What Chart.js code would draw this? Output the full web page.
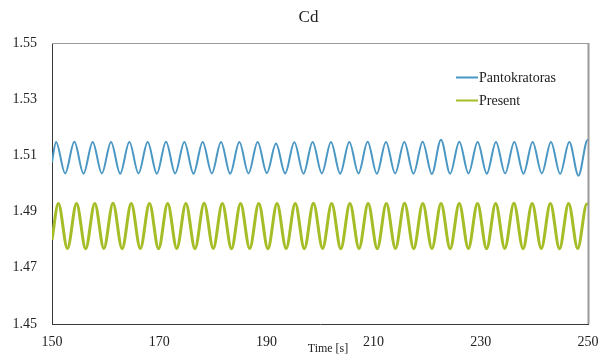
<!DOCTYPE html>
<html>
<head>
<meta charset="utf-8">
<script src="https://cdn.jsdelivr.net/npm/chart.js@4"></script>
<style>
html,body{margin:0;padding:0;background:#fff;}
#wrap{width:600px;height:356px;position:relative;}
</style>
</head>
<body>
<div id="wrap"><canvas id="c" width="600" height="356"></canvas></div>
<script>
const chartTitle = "Cd";
const xAxisTitle = "Time [s]";
const xTicks = [150, 170, 190, 210, 230, 250];
const yTicks = [1.45, 1.47, 1.49, 1.51, 1.53, 1.55];
const seriesNames = ["Pantokratoras", "Present"];

const pantoT = [150, 150.75, 152.46, 154.17, 155.88, 157.59, 159.30, 161.01, 162.72, 164.43, 166.14, 167.85, 169.56, 171.27, 172.98, 174.69, 176.40, 178.11, 179.82, 181.53, 183.24, 184.95, 186.66, 188.37, 190.08, 191.79, 193.50, 195.21, 196.92, 198.63, 200.34, 202.05, 203.76, 205.47, 207.18, 208.89, 210.60, 212.31, 214.02, 215.73, 217.44, 219.15, 220.86, 222.57, 224.28, 225.99, 227.70, 229.41, 231.12, 232.83, 234.54, 236.25, 237.96, 239.67, 241.38, 243.09, 244.80, 246.51, 248.22, 249.93, 250];
const pantoY = [1.5076, 1.5148, 1.5036, 1.5149, 1.5035, 1.5148, 1.5036, 1.5148, 1.5035, 1.5148, 1.5036, 1.5148, 1.5035, 1.5149, 1.5036, 1.5148, 1.5035, 1.5148, 1.5036, 1.5148, 1.5035, 1.5148, 1.5036, 1.5148, 1.5037, 1.5142, 1.5036, 1.5147, 1.5035, 1.5148, 1.5036, 1.5148, 1.5035, 1.5148, 1.5036, 1.5149, 1.5035, 1.5148, 1.5036, 1.5148, 1.5035, 1.5149, 1.5034, 1.5156, 1.5035, 1.5149, 1.5036, 1.5148, 1.5035, 1.5148, 1.5036, 1.5148, 1.5035, 1.5148, 1.5036, 1.5148, 1.5034, 1.5148, 1.5028, 1.5155, 1.5155];

const presentT = [150, 151.18, 152.88, 154.58, 156.28, 157.98, 159.68, 161.38, 163.08, 164.78, 166.48, 168.18, 169.88, 171.58, 173.28, 174.98, 176.68, 178.38, 180.08, 181.78, 183.48, 185.18, 186.88, 188.58, 190.28, 191.98, 193.68, 195.38, 197.08, 198.78, 200.48, 202.18, 203.88, 205.58, 207.28, 208.98, 210.68, 212.38, 214.08, 215.78, 217.48, 219.18, 220.88, 222.58, 224.28, 225.98, 227.68, 229.38, 231.08, 232.78, 234.48, 236.18, 237.88, 239.58, 241.28, 242.98, 244.68, 246.38, 248.08, 249.78, 250];
const presentY = [1.4800, 1.4929, 1.4769, 1.4929, 1.4768, 1.4929, 1.4769, 1.4930, 1.4768, 1.4929, 1.4769, 1.4929, 1.4768, 1.4929, 1.4769, 1.4929, 1.4768, 1.4930, 1.4769, 1.4929, 1.4768, 1.4929, 1.4769, 1.4929, 1.4768, 1.4929, 1.4769, 1.4929, 1.4768, 1.4930, 1.4769, 1.4929, 1.4768, 1.4929, 1.4769, 1.4929, 1.4768, 1.4929, 1.4769, 1.4930, 1.4768, 1.4929, 1.4769, 1.4929, 1.4768, 1.4929, 1.4769, 1.4929, 1.4768, 1.4929, 1.4769, 1.4930, 1.4768, 1.4929, 1.4769, 1.4929, 1.4768, 1.4929, 1.4769, 1.4927, 1.4926];

const colors = ["#4a97c4", "#a6bd27"];
const FONT = "'Liberation Serif', 'Times New Roman', serif";

const toPts = (xs, ys) => xs.map((x, i) => ({x: x, y: ys[i]}));

const framePlugin = {
  id: 'frame',
  afterDatasetsDraw(chart) {
    const a = chart.chartArea, ctx = chart.ctx;
    ctx.save();
    ctx.strokeStyle = '#9a9a9a';
    ctx.lineWidth = 1;
    ctx.beginPath();
    ctx.moveTo(a.left, a.top + 0.5);
    ctx.lineTo(a.right, a.top + 0.5);
    ctx.stroke();
    ctx.lineWidth = 2;
    ctx.beginPath();
    ctx.moveTo(a.right + 0.5, a.top);
    ctx.lineTo(a.right + 0.5, a.bottom);
    ctx.stroke();
    ctx.restore();
  }
};

const textPlugin = {
  id: 'texts',
  afterDraw(chart) {
    const ctx = chart.ctx;
    const ys = [77.5, 100.5];
    ctx.save();
    // title
    ctx.font = "17px " + FONT;
    ctx.fillStyle = '#222';
    ctx.textAlign = 'center';
    ctx.textBaseline = 'middle';
    ctx.fillText(chartTitle, 308.5, 18);
    // x axis title
    ctx.font = "12px " + FONT;
    ctx.fillText(xAxisTitle, 328, 349);
    // legend
    ctx.font = "14px " + FONT;
    ctx.textAlign = 'left';
    chart.data.datasets.forEach((ds, i) => {
      ctx.strokeStyle = ds.borderColor;
      ctx.lineWidth = 2;
      ctx.beginPath();
      ctx.moveTo(456, ys[i]);
      ctx.lineTo(478, ys[i]);
      ctx.stroke();
      ctx.fillStyle = '#222';
      ctx.fillText(ds.label, 479, ys[i] + 0.5);
    });
    ctx.restore();
  }
};

new Chart(document.getElementById('c'), {
  type: 'line',
  data: {
    datasets: [
      {label: seriesNames[0], data: toPts(pantoT, pantoY), borderColor: colors[0], borderWidth: 2, pointRadius: 0, fill: false, cubicInterpolationMode: 'monotone'},
      {label: seriesNames[1], data: toPts(presentT, presentY), borderColor: colors[1], borderWidth: 3, pointRadius: 0, fill: false, cubicInterpolationMode: 'monotone'}
    ]
  },
  options: {
    responsive: false,
    animation: false,
    events: [],
    layout: {padding: {left: 0, right: 12, top: 43, bottom: 0}},
    plugins: {
      legend: {display: false},
      tooltip: {enabled: false},
      title: {display: false}
    },
    scales: {
      x: {
        type: 'linear',
        min: 150, max: 250,
        afterBuildTicks: s => { s.ticks = xTicks.map(v => ({value: v})); },
        afterFit: s => { s.height = 32; s.paddingLeft = 0; s.paddingRight = 0; },
        grid: {display: false, drawTicks: false},
        border: {display: true, color: '#3a3a3a', width: 1},
        ticks: {color: '#222', font: {family: FONT, size: 14}, padding: 10, maxRotation: 0, autoSkip: false}
      },
      y: {
        type: 'linear',
        min: 1.45, max: 1.55,
        afterBuildTicks: s => { s.ticks = yTicks.map(v => ({value: v})); },
        afterFit: s => { s.width = 52; s.paddingTop = 0; s.paddingBottom = 0; },
        grid: {display: false, drawTicks: false},
        border: {display: true, color: '#3a3a3a', width: 1},
        ticks: {color: '#222', font: {family: FONT, size: 14}, padding: 15, callback: v => Number(v).toFixed(2), autoSkip: false}
      }
    }
  },
  plugins: [framePlugin, textPlugin]
});
</script>
</body>
</html>
